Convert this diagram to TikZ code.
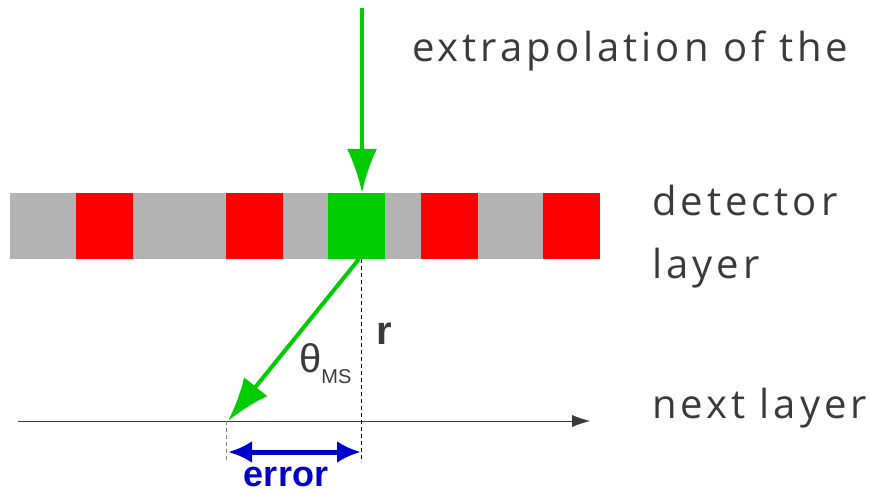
\documentclass[tikz,border=0pt]{standalone}
\usepackage{fontspec}
\setmainfont{Open Sans}
\newfontfamily\handfont[LetterSpace=10]{Open Sans}
\newfontfamily\labelfont{Liberation Sans}
\usetikzlibrary{arrows.meta}
\definecolor{hitgreen}{HTML}{00CC00}
\definecolor{layergray}{HTML}{B3B3B3}
\definecolor{errblue}{HTML}{0000CC}
\definecolor{inkgray}{HTML}{3A3A3A}
\tikzset{
  cell/.style={draw=none, minimum height=66pt, minimum width=57pt, inner sep=0pt, anchor=north west},
  hitarrow/.style={hitgreen, line width=4pt, -{Latex[length=44pt, width=30pt]}},
  errarrow/.style={errblue, line width=5pt, {Latex[length=24pt, width=22pt]}-{Latex[length=24pt, width=22pt]}},
  hand/.style={font=\handfont\fontsize{40}{44}\selectfont, text=inkgray, anchor=base west},
}
\begin{document}
\begin{tikzpicture}[x=1pt, y=-1pt, every node/.style={inner sep=0pt}]
  \useasboundingbox (0,0) rectangle (871,492);
  \coordinate (SRC) at (362,8);
  \coordinate (OUT) at (359,259);
  \coordinate (IMP) at (228,421);
  \coordinate (AXL) at (18,421);
  \coordinate (AXR) at (590,421);
  \coordinate (RB) at (361,462);
  \coordinate (EB) at (226,462);

  % the layer with its cells
  \node[cell, fill=layergray, minimum width=590pt] (bar) at (10,193) {};
  \node[cell, fill=red]      (R1)  at (76,193)  {};
  \node[cell, fill=red]      (R2)  at (226,193) {};
  \node[cell, fill=hitgreen] (HIT) at (328,193) {};
  \node[cell, fill=red]      (R3)  at (421,193) {};
  \node[cell, fill=red]      (R4)  at (543,193) {};

  \draw[hitarrow] (SRC) -- (SRC |- HIT.north);
  \draw[-{Latex[length=18pt, width=12pt]}, inkgray] (AXL) -- (AXR);
  \draw[dashed, dash pattern=on 4pt off 3pt] (OUT -| RB) -- (RB);
  \draw[dashed, dash pattern=on 4pt off 3pt, gray] (IMP -| EB) -- (EB);
  \draw[hitarrow] (OUT) -- (IMP);
  \draw[errarrow] (IMP |- 0,452) -- (RB |- 0,452);

  \node[hand] (extra) at (412,62)  {extrapolation of the};
  \node[hand] (det)   at (652,215) {detector};
  \node[hand] (lay)   at (652,278) {layer};
  \node[hand] (next)  at (652,418) {next layer};
  \node[anchor=base west, font=\labelfont\bfseries\fontsize{40}{40}\selectfont, text=inkgray] (r) at (376,344) {r};
  \node[anchor=base west, font=\labelfont\fontsize{40}{40}\selectfont, text=inkgray] (theta) at (299,372)
    {θ\raisebox{-11pt}{\labelfont\fontsize{20}{22}\selectfont MS}};
  \node[anchor=base, font=\labelfont\bfseries\fontsize{36}{40}\selectfont, text=errblue] (err) at (286,486) {error};
\end{tikzpicture}
\end{document}
